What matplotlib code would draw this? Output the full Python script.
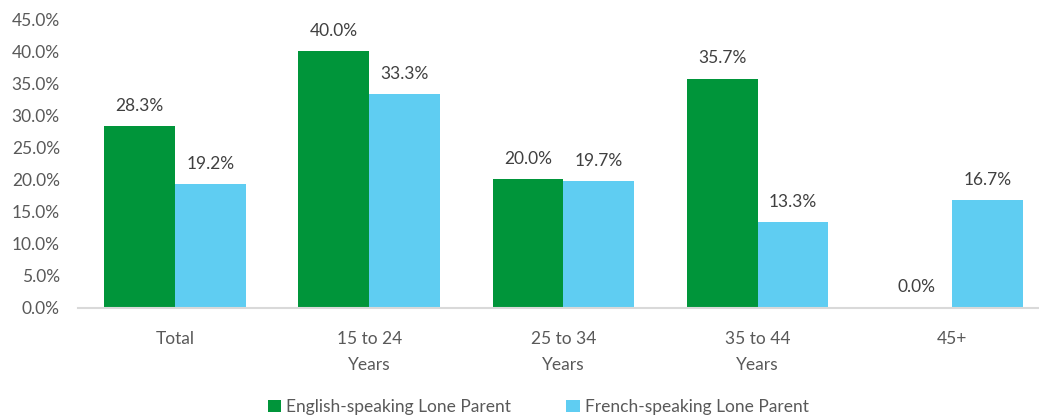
import matplotlib.pyplot as plt
import numpy as np

categories = ["Total", "15 to 24\nYears", "25 to 34\nYears", "35 to 44\nYears", "45+"]
english = [28.3, 40.0, 20.0, 35.7, 0.0]
french = [19.2, 33.3, 19.7, 13.3, 16.7]
series_names = ["English-speaking Lone Parent", "French-speaking Lone Parent"]

GREEN = "#00953A"
BLUE = "#5FCDF2"
TEXT = "#595959"
FS = 12.5

plt.rcParams["font.family"] = ["Lato", "DejaVu Sans"]

fig = plt.figure(figsize=(10.39, 4.19), dpi=100)
ax = fig.add_axes([0.075, 0.266, 0.9345, 0.6885])

x = np.arange(len(categories))
w = 0.365
b1 = ax.bar(x - w / 2, english, w, color=GREEN, label=series_names[0])
b2 = ax.bar(x + w / 2, french, w, color=BLUE, label=series_names[1])

for bars in (b1, b2):
    for rect in bars:
        h = rect.get_height()
        ax.annotate(f"{h:.1f}%", (rect.get_x() + rect.get_width() / 2, h),
                    xytext=(0, 9), textcoords="offset points",
                    ha="center", va="bottom", fontsize=FS, color="#404040")

ax.set_xlim(-0.5, len(categories) - 0.5)
ax.set_ylim(0, 45)
ax.set_yticks(np.arange(0, 46, 5))
ax.set_yticklabels([f"{v:.1f}%" for v in np.arange(0, 46, 5)])
ax.set_xticks(x)
ax.set_xticklabels(categories, linespacing=1.75)

for s in ("top", "right", "left"):
    ax.spines[s].set_visible(False)
ax.spines["bottom"].set_color("#D9D9D9")
ax.spines["bottom"].set_linewidth(1.5)
ax.tick_params(axis="both", length=0, colors=TEXT, labelsize=FS)
ax.tick_params(axis="x", pad=17)
ax.tick_params(axis="y", pad=13)

fig.legend(handles=[b1, b2], loc="lower center", bbox_to_anchor=(0.518, -0.028),
           ncol=2, frameon=False, fontsize=FS, labelcolor=TEXT,
           handlelength=0.75, handleheight=0.75, handletextpad=0.3, columnspacing=3.2)

fig.savefig("out.png", dpi=100)
